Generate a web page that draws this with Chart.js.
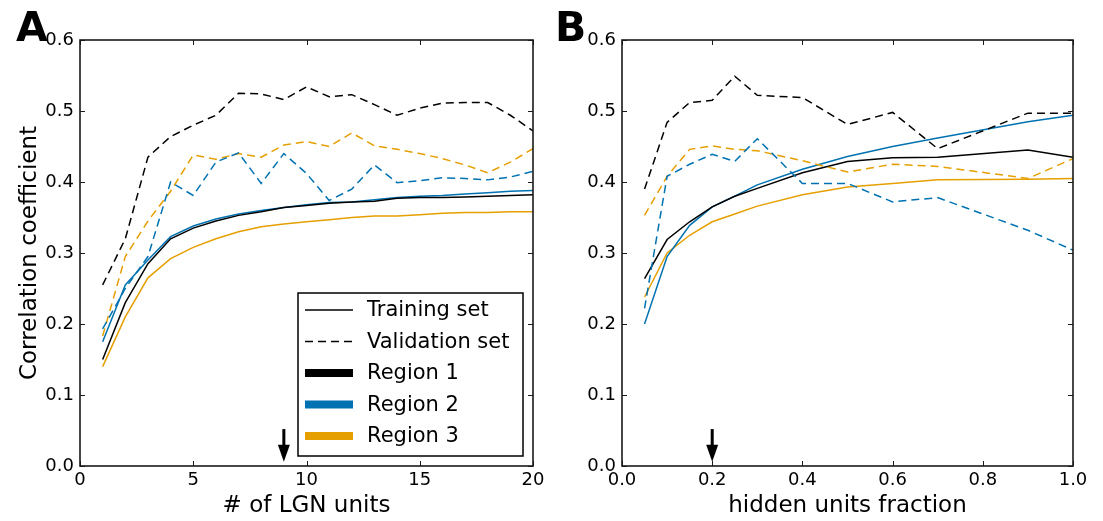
<!DOCTYPE html>
<html>
<head>
<meta charset="utf-8">
<script src="https://cdn.jsdelivr.net/npm/chart.js@4.4.1/dist/chart.umd.min.js"></script>
<style>
  html, body { margin: 0; padding: 0; background: #fff; }
  #wrap { position: relative; width: 1103px; height: 521px; }
  #panelA { position: absolute; left: 0; top: 0; }
  #panelB { position: absolute; left: 550px; top: 0; }
</style>
</head>
<body>
<div id="wrap">
  <canvas id="panelA" width="550" height="521"></canvas>
  <canvas id="panelB" width="553" height="521"></canvas>
</div>
<script>
// panel A: number of LGN units
var lgnUnits = [1, 2, 3, 4, 5, 6, 7, 8, 9, 10, 11, 12, 13, 14, 15, 16, 17, 18, 19, 20];
var aTrainR1 = [0.150, 0.230, 0.285, 0.320, 0.335, 0.345, 0.353, 0.358, 0.364, 0.367, 0.370, 0.372, 0.373, 0.377, 0.378, 0.378, 0.379, 0.380, 0.381, 0.382];
var aTrainR2 = [0.175, 0.255, 0.290, 0.323, 0.338, 0.348, 0.355, 0.360, 0.364, 0.368, 0.371, 0.372, 0.375, 0.378, 0.380, 0.381, 0.383, 0.385, 0.387, 0.388];
var aTrainR3 = [0.140, 0.210, 0.265, 0.292, 0.308, 0.320, 0.330, 0.337, 0.341, 0.344, 0.347, 0.350, 0.352, 0.352, 0.354, 0.356, 0.357, 0.357, 0.358, 0.358];
var aValR1 = [0.255, 0.320, 0.435, 0.464, 0.480, 0.494, 0.525, 0.524, 0.516, 0.534, 0.520, 0.523, 0.509, 0.494, 0.504, 0.511, 0.512, 0.512, 0.494, 0.472];
var aValR2 = [0.193, 0.250, 0.295, 0.400, 0.381, 0.428, 0.441, 0.398, 0.440, 0.412, 0.374, 0.390, 0.424, 0.399, 0.402, 0.406, 0.405, 0.403, 0.407, 0.415];
var aValR3 = [0.183, 0.295, 0.345, 0.387, 0.438, 0.432, 0.440, 0.435, 0.452, 0.457, 0.450, 0.469, 0.451, 0.446, 0.440, 0.433, 0.424, 0.413, 0.428, 0.447];

// panel B: hidden units fraction
var hiddenFrac = [0.05, 0.1, 0.15, 0.2, 0.25, 0.3, 0.4, 0.5, 0.6, 0.7, 0.9, 1.0];
var bTrainR1 = [0.264, 0.319, 0.344, 0.365, 0.380, 0.391, 0.413, 0.429, 0.434, 0.435, 0.445, 0.435];
var bTrainR2 = [0.200, 0.295, 0.339, 0.365, 0.380, 0.396, 0.418, 0.436, 0.450, 0.462, 0.485, 0.494];
var bTrainR3 = [0.238, 0.300, 0.325, 0.344, 0.355, 0.366, 0.382, 0.393, 0.398, 0.403, 0.404, 0.405];
var bValR1 = [0.390, 0.484, 0.512, 0.515, 0.549, 0.522, 0.519, 0.481, 0.498, 0.447, 0.497, 0.497];
var bValR2 = [0.222, 0.408, 0.425, 0.439, 0.429, 0.461, 0.398, 0.398, 0.372, 0.378, 0.332, 0.304];
var bValR3 = [0.353, 0.408, 0.446, 0.451, 0.446, 0.444, 0.430, 0.414, 0.425, 0.422, 0.405, 0.433];

var yTicks = [0.0, 0.1, 0.2, 0.3, 0.4, 0.5, 0.6];
var aXTicks = [0, 5, 10, 15, 20];
var bXTicks = [0.0, 0.2, 0.4, 0.6, 0.8, 1.0];
var aArrowAt = 9;
var bArrowAt = 0.2;

var regionNames = ["Region 1", "Region 2", "Region 3"];
var regionColors = ["#000000", "#0072b2", "#e69f00"];
var FONT = "'DejaVu Sans', 'Liberation Sans', sans-serif";
var DASH = [8, 5];

function pts(xs, ys) {
  return xs.map(function (x, i) { return { x: x, y: ys[i] }; });
}

function buildSets(xs, train, val) {
  var sets = [];
  for (var i = 0; i < 3; i++) {
    sets.push({
      label: regionNames[i] + " validation",
      data: pts(xs, val[i]),
      borderColor: regionColors[i],
      borderWidth: 1.5,
      borderDash: DASH,
      pointRadius: 0,
      tension: 0,
    });
  }
  for (var j = 0; j < 3; j++) {
    sets.push({
      label: regionNames[j] + " training",
      data: pts(xs, train[j]),
      borderColor: regionColors[j],
      borderWidth: 1.5,
      pointRadius: 0,
      tension: 0,
    });
  }
  return sets;
}

// frame with inward ticks on all four sides, arrow, panel letter and legend
var decor = {
  id: "decor",
  afterDraw: function (chart) {
    var o = chart.options.plugins.decor;
    var ctx = chart.ctx;
    var a = chart.chartArea;
    var xs = chart.scales.x, ys = chart.scales.y;
    ctx.save();
    ctx.strokeStyle = "#1a1a1a";
    ctx.lineWidth = 1;
    o.xTicks.forEach(function (v) {
      var px = Math.round(xs.getPixelForValue(v)) + 0.5;
      ctx.beginPath();
      ctx.moveTo(px, a.bottom); ctx.lineTo(px, a.bottom - 5);
      ctx.moveTo(px, a.top); ctx.lineTo(px, a.top + 5);
      ctx.stroke();
    });
    yTicks.forEach(function (v) {
      var py = Math.round(ys.getPixelForValue(v)) + 0.5;
      ctx.beginPath();
      ctx.moveTo(a.left, py); ctx.lineTo(a.left + 5, py);
      ctx.moveTo(a.right, py); ctx.lineTo(a.right - 5, py);
      ctx.stroke();
    });
    ctx.lineWidth = 1.6;
    ctx.strokeRect(a.left, a.top, a.right - a.left, a.bottom - a.top);

    // arrow
    var ax = xs.getPixelForValue(o.arrowAt);
    var yTop = ys.getPixelForValue(0.052);
    var yTip = ys.getPixelForValue(0.006);
    ctx.fillStyle = "#000";
    ctx.fillRect(ax - 1.5, yTop, 3, yTip - yTop - 14);
    ctx.beginPath();
    ctx.moveTo(ax - 6, yTip - 17);
    ctx.lineTo(ax + 6, yTip - 17);
    ctx.lineTo(ax, yTip);
    ctx.closePath();
    ctx.fill();

    // panel letter
    ctx.font = "bold 41px " + FONT;
    ctx.textBaseline = "alphabetic";
    ctx.textAlign = "left";
    ctx.fillText(o.letter, o.letterX, 41);

    if (o.legend) {
      var lx = 298, ly = 293, lw = 225, lh = 163;
      ctx.fillStyle = "#fff";
      ctx.fillRect(lx, ly, lw, lh);
      ctx.lineWidth = 1.5;
      ctx.strokeStyle = "#000";
      ctx.strokeRect(lx, ly, lw, lh);
      var rows = [
        { text: "Training set", color: "#000", width: 1.5, dash: [] },
        { text: "Validation set", color: "#000", width: 1.5, dash: DASH },
        { text: regionNames[0], color: regionColors[0], width: 8, dash: [] },
        { text: regionNames[1], color: regionColors[1], width: 8, dash: [] },
        { text: regionNames[2], color: regionColors[2], width: 8, dash: [] },
      ];
      ctx.font = "21px " + FONT;
      ctx.textBaseline = "middle";
      rows.forEach(function (r, i) {
        var ry = 310 + i * 31.5;
        ctx.beginPath();
        ctx.setLineDash(r.dash);
        ctx.strokeStyle = r.color;
        ctx.lineWidth = r.width;
        ctx.moveTo(305, ry);
        ctx.lineTo(353, ry);
        ctx.stroke();
        ctx.setLineDash([]);
        ctx.fillStyle = "#000";
        ctx.fillText(r.text, 367, ry + 1);
      });
    }
    ctx.restore();
  },
};

function makePanel(canvasId, cfg) {
  return new Chart(document.getElementById(canvasId), {
    type: "line",
    data: { datasets: buildSets(cfg.xs, cfg.train, cfg.val) },
    options: {
      responsive: false,
      animation: false,
      layout: { padding: { top: 40, right: cfg.padRight, left: 0, bottom: 0 } },
      plugins: {
        legend: { display: false },
        tooltip: { enabled: false },
        decor: cfg.decor,
      },
      scales: {
        x: {
          type: "linear",
          min: cfg.xMin,
          max: cfg.xMax,
          afterBuildTicks: function (scale) {
            scale.ticks = cfg.decor.xTicks.map(function (v) { return { value: v }; });
          },
          afterFit: function (scale) { scale.height = 55; },
          grid: { display: false, drawTicks: false },
          border: { display: false },
          ticks: {
            padding: 4,
            color: "#000",
            font: { family: FONT, size: 18 },
            maxRotation: 0,
            callback: cfg.xFmt,
          },
          title: {
            display: true,
            text: cfg.xTitle,
            color: "#000",
            font: { family: FONT, size: 23 },
            padding: { top: 0, bottom: 1 },
          },
        },
        y: {
          min: 0,
          max: 0.6,
          afterBuildTicks: function (scale) {
            scale.ticks = yTicks.map(function (v) { return { value: v }; });
          },
          afterFit: function (scale) { scale.width = cfg.yWidth; },
          grid: { display: false, drawTicks: false },
          border: { display: false },
          ticks: {
            padding: 6,
            color: "#000",
            font: { family: FONT, size: 18 },
            callback: function (v) { return Number(v).toFixed(1); },
          },
          title: {
            display: !!cfg.yTitle,
            text: cfg.yTitle || "",
            color: "#000",
            font: { family: FONT, size: 23 },
            padding: { top: 16, bottom: 0 },
          },
        },
      },
    },
    plugins: [decor],
  });
}

makePanel("panelA", {
  xs: lgnUnits,
  train: [aTrainR1, aTrainR2, aTrainR3],
  val: [aValR1, aValR2, aValR3],
  xMin: 0, xMax: 20,
  xFmt: function (v) { return String(v); },
  xTitle: "# of LGN units",
  yTitle: "Correlation coefficient",
  yWidth: 80,
  padRight: 17,
  decor: { xTicks: aXTicks, arrowAt: aArrowAt, letter: "A", letterX: 16, legend: true },
});

makePanel("panelB", {
  xs: hiddenFrac,
  train: [bTrainR1, bTrainR2, bTrainR3],
  val: [bValR1, bValR2, bValR3],
  xMin: 0, xMax: 1,
  xFmt: function (v) { return Number(v).toFixed(1); },
  xTitle: "hidden units fraction",
  yTitle: null,
  yWidth: 72,
  padRight: 30,
  decor: { xTicks: bXTicks, arrowAt: bArrowAt, letter: "B", letterX: 5, legend: false },
});
</script>
</body>
</html>
